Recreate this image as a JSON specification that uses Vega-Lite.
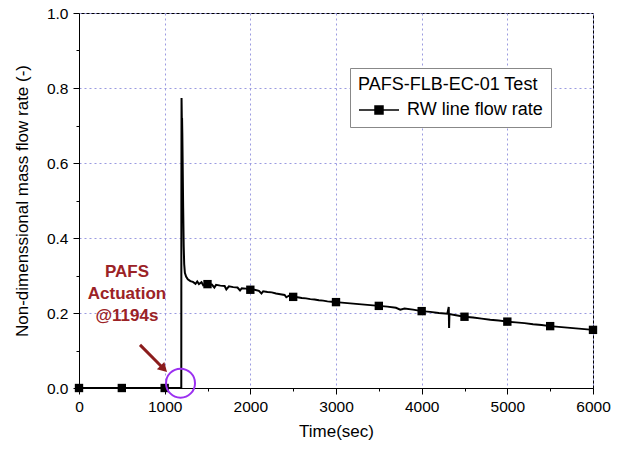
{
  "$schema": "https://vega.github.io/schema/vega-lite/v6.json",
  "width": 514,
  "height": 375,
  "autosize": {"type": "none"},
  "padding": {"left": 79, "top": 13, "right": 25, "bottom": 62},
  "background": "white",
  "config": {
    "font": "Liberation Sans",
    "view": {"stroke": "black", "strokeWidth": 1},
    "axis": {
      "domainColor": "black",
      "tickColor": "black",
      "labelColor": "black",
      "titleColor": "black",
      "titleFontWeight": "normal",
      "titleFontSize": 17,
      "labelFontSize": 15.5,
      "gridColor": "#9a9ae0",
      "gridDash": [2, 3],
      "gridWidth": 1,
      "labelOverlap": false,
      "labelFlush": false,
      "tickWidth": 1
    }
  },
  "datasets": {
    "flow": [
      {"t": 0, "v": 0}, {"t": 1194, "v": 0}, {"t": 1195, "v": 0.5}, {"t": 1197, "v": 0.773},
      {"t": 1199, "v": 0.74}, {"t": 1201, "v": 0.70}, {"t": 1203, "v": 0.72}, {"t": 1206, "v": 0.68},
      {"t": 1210, "v": 0.60}, {"t": 1216, "v": 0.48}, {"t": 1222, "v": 0.38}, {"t": 1228, "v": 0.33},
      {"t": 1236, "v": 0.307}, {"t": 1250, "v": 0.297}, {"t": 1270, "v": 0.29}, {"t": 1300, "v": 0.285},
      {"t": 1330, "v": 0.283}, {"t": 1360, "v": 0.278}, {"t": 1380, "v": 0.284}, {"t": 1400, "v": 0.277},
      {"t": 1430, "v": 0.282}, {"t": 1450, "v": 0.274}, {"t": 1480, "v": 0.279}, {"t": 1500, "v": 0.277},
      {"t": 1550, "v": 0.276}, {"t": 1580, "v": 0.268}, {"t": 1600, "v": 0.275}, {"t": 1650, "v": 0.273},
      {"t": 1700, "v": 0.272}, {"t": 1720, "v": 0.263}, {"t": 1750, "v": 0.271}, {"t": 1800, "v": 0.269},
      {"t": 1850, "v": 0.268}, {"t": 1880, "v": 0.26}, {"t": 1900, "v": 0.266}, {"t": 1950, "v": 0.265},
      {"t": 2000, "v": 0.262}, {"t": 2050, "v": 0.262}, {"t": 2100, "v": 0.259}, {"t": 2130, "v": 0.252},
      {"t": 2150, "v": 0.258}, {"t": 2200, "v": 0.256}, {"t": 2250, "v": 0.255}, {"t": 2300, "v": 0.252},
      {"t": 2350, "v": 0.25}, {"t": 2400, "v": 0.248}, {"t": 2420, "v": 0.242}, {"t": 2450, "v": 0.246},
      {"t": 2500, "v": 0.243}, {"t": 2550, "v": 0.242}, {"t": 2600, "v": 0.24}, {"t": 2650, "v": 0.239},
      {"t": 2700, "v": 0.237}, {"t": 2750, "v": 0.236}, {"t": 2800, "v": 0.234}, {"t": 2850, "v": 0.233},
      {"t": 2900, "v": 0.231}, {"t": 2950, "v": 0.23}, {"t": 3000, "v": 0.229}, {"t": 3100, "v": 0.227},
      {"t": 3200, "v": 0.225}, {"t": 3300, "v": 0.223}, {"t": 3400, "v": 0.221}, {"t": 3500, "v": 0.219},
      {"t": 3600, "v": 0.217}, {"t": 3700, "v": 0.214}, {"t": 3750, "v": 0.209}, {"t": 3800, "v": 0.212},
      {"t": 3900, "v": 0.209}, {"t": 4000, "v": 0.205}, {"t": 4100, "v": 0.203}, {"t": 4200, "v": 0.2},
      {"t": 4300, "v": 0.198}, {"t": 4316, "v": 0.216}, {"t": 4320, "v": 0.16}, {"t": 4324, "v": 0.197},
      {"t": 4400, "v": 0.194}, {"t": 4500, "v": 0.19}, {"t": 4600, "v": 0.188}, {"t": 4700, "v": 0.185},
      {"t": 4800, "v": 0.182}, {"t": 4900, "v": 0.18}, {"t": 5000, "v": 0.177}, {"t": 5100, "v": 0.175},
      {"t": 5200, "v": 0.173}, {"t": 5300, "v": 0.17}, {"t": 5400, "v": 0.168}, {"t": 5500, "v": 0.165},
      {"t": 5600, "v": 0.163}, {"t": 5700, "v": 0.161}, {"t": 5800, "v": 0.159}, {"t": 5900, "v": 0.157},
      {"t": 6000, "v": 0.155}
    ],
    "markers": [
      {"t": 0, "v": 0}, {"t": 500, "v": 0}, {"t": 1000, "v": 0}, {"t": 1500, "v": 0.277},
      {"t": 2000, "v": 0.262}, {"t": 2500, "v": 0.243}, {"t": 3000, "v": 0.229}, {"t": 3500, "v": 0.219},
      {"t": 4000, "v": 0.205}, {"t": 4500, "v": 0.19}, {"t": 5000, "v": 0.177}, {"t": 5500, "v": 0.165},
      {"t": 6000, "v": 0.155}
    ],
    "circle": [{"t": 1185, "v": 0.013}],
    "arrow": [{"t": 712, "v": 0.115, "t2": 986, "v2": 0.052}],
    "arrowhead": [{"t": 990, "v": 0.051}],
    "notes": [
      {"t": 560, "v": 0.309, "label": "PAFS"},
      {"t": 560, "v": 0.251, "label": "Actuation"},
      {"t": 560, "v": 0.192, "label": "@1194s"}
    ]
  },
  "encoding": {
    "x": {
      "field": "t",
      "type": "quantitative",
      "scale": {"domain": [0, 6000], "nice": false},
      "axis": {
        "title": "Time(sec)",
        "values": [0, 500, 1000, 1500, 2000, 2500, 3000, 3500, 4000, 4500, 5000, 5500, 6000],
        "format": "d",
        "labelExpr": "datum.value % 1000 === 0 ? datum.label : ''",
        "tickSize": {"condition": {"test": "datum.value % 1000 === 0", "value": 6}, "value": 3},
        "gridOpacity": {"condition": {"test": "datum.value % 1000 === 0", "value": 1}, "value": 0},
        "labelPadding": 5,
        "titlePadding": 9
      }
    },
    "y": {
      "field": "v",
      "type": "quantitative",
      "scale": {"domain": [0, 1], "nice": false},
      "axis": {
        "title": "Non-dimenssional mass flow rate (-)",
        "values": [0, 0.1, 0.2, 0.3, 0.4, 0.5, 0.6, 0.7, 0.8, 0.9, 1.0],
        "format": ".1f",
        "labelExpr": "round(datum.value * 10) % 2 === 0 ? datum.label : ''",
        "tickSize": {"condition": {"test": "round(datum.value * 10) % 2 === 0", "value": 6}, "value": 3},
        "gridOpacity": {"condition": {"test": "round(datum.value * 10) % 2 === 0", "value": 1}, "value": 0},
        "labelPadding": 5,
        "titlePadding": 15
      }
    }
  },
  "layer": [
    {
      "data": {"name": "flow"},
      "mark": {"type": "line", "strokeWidth": 2, "interpolate": "linear"},
      "encoding": {
        "color": {
          "datum": "RW line flow rate",
          "scale": {"domain": ["RW line flow rate"], "range": ["black"]},
          "legend": {
            "title": "PAFS-FLB-EC-01 Test",
            "orient": "none",
            "legendX": 271,
            "legendY": 55,
            "padding": 8,
            "strokeColor": "#888888",
            "fillColor": "white",
            "titleFontSize": 18,
            "titleFontWeight": "normal",
            "titleColor": "black",
            "titlePadding": 5,
            "labelFontSize": 18,
            "labelColor": "black",
            "labelOffset": 27,
            "symbolType": "M-1,0H3M0.6,-0.4H1.4V0.4H0.6Z",
            "symbolSize": 400,
            "symbolStrokeWidth": 1.5,
            "symbolFillColor": "black",
            "symbolStrokeColor": "black",
            "encode": {
              "symbols": {
                "update": {
                  "fill": {"value": "black"},
                  "stroke": {"value": "black"},
                  "strokeWidth": {"value": 1.5}
                }
              }
            }
          }
        }
      }
    },
    {
      "data": {"name": "markers"},
      "mark": {"type": "point", "shape": "square", "filled": true, "color": "black", "size": 70, "opacity": 1}
    },
    {
      "data": {"name": "circle"},
      "mark": {"type": "point", "shape": "circle", "filled": false, "color": "#9b30f0", "strokeWidth": 2, "size": 841, "opacity": 1}
    },
    {
      "data": {"name": "arrow"},
      "mark": {"type": "rule", "color": "#8b1c1c", "strokeWidth": 3},
      "encoding": {
        "x2": {"field": "t2"},
        "y2": {"field": "v2"}
      }
    },
    {
      "data": {"name": "arrowhead"},
      "mark": {"type": "point", "shape": "triangle-up", "filled": true, "color": "#8b1c1c", "size": 110, "angle": 135, "opacity": 1}
    },
    {
      "data": {"name": "notes"},
      "mark": {"type": "text", "font": "Liberation Sans", "fontWeight": "bold", "fontSize": 17, "color": "#9b2226", "align": "center", "baseline": "middle"},
      "encoding": {"text": {"field": "label"}}
    }
  ]
}
